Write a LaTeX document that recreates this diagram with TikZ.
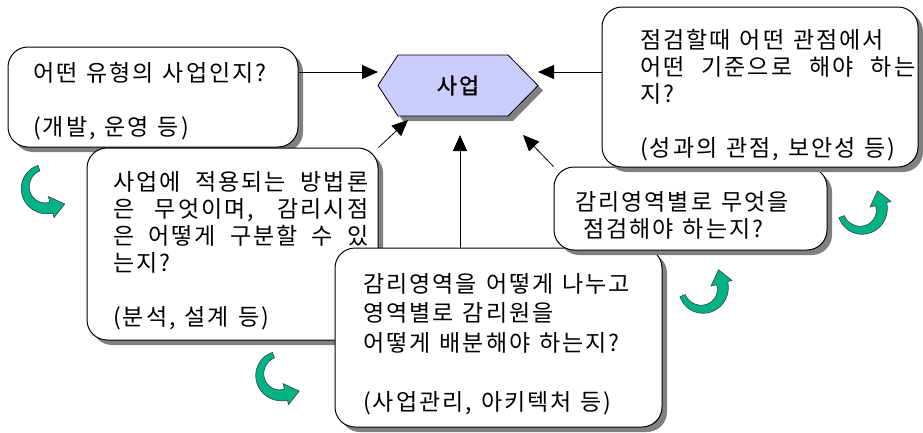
\documentclass[tikz,border=0pt]{standalone}
\usepackage{fontspec}
\newfontfamily\kr{Noto Sans CJK KR}[LetterSpace=8.7]
\usetikzlibrary{arrows.meta,shadows}
\definecolor{hexfill}{RGB}{204,204,255}
\definecolor{ribbon}{RGB}{0,179,134}
\definecolor{shadowgray}{RGB}{128,128,128}
\newcommand{\krtext}[1]{\kr\fontsize{23}{#1}\selectfont\fontdimen2\font=9pt\relax}
\newcommand{\jline}[2]{\makebox[#1pt][s]{#2}}
\tikzset{
  txt/.style={font={\krtext{27}}, align=left, inner sep=0pt, anchor=base west},
  box/.style={draw=black, line width=1pt, fill=white, rounded corners=20pt,
    drop shadow={shadow xshift=5pt, shadow yshift=-5pt, fill=shadowgray, opacity=1}},
  hexshape/.style={draw=black, line width=0.8pt, fill=hexfill,
    drop shadow={shadow xshift=5pt, shadow yshift=-5pt, fill=shadowgray, opacity=1}},
  hexlabel/.style={font={\kr\fontsize{22}{26}\selectfont\addfontfeature{FakeBold=1.5}}, inner sep=0pt},
  conn/.style={line width=0.8pt, -{Triangle[length=16pt,width=14pt]}},
  ribbonstyle/.style={fill=ribbon, draw=black!75, line width=0.6pt, line join=round},
  curlarrow/.pic={
    \filldraw[ribbonstyle]
      plot[domain=200:375,samples=36,smooth,variable=\t]
        ({(20.5+2.5*(\t-200)/175)*cos(\t)},{(20.5+2.5*(\t-200)/175)*sin(\t)})
      -- (375:27) -- (14.3,16.3) -- (375:8)
      -- plot[domain=375:200,samples=36,smooth,variable=\t]
        ({(15.5-2.5*(\t-200)/175)*cos(\t)},{(15.5-2.5*(\t-200)/175)*sin(\t)})
      -- cycle;
  }
}
\begin{document}
\begin{tikzpicture}[x=1pt,y=1pt]
\fill[white] (0,0) rectangle (923,-432);
\useasboundingbox (0,0) rectangle (923,-432);

% hexagon
\path[hexshape] (378,-85.5) -- (398,-55) -- (508,-55) -- (538,-85.5) -- (508,-116) -- (398,-116) -- cycle;
\node[hexlabel] (hex) at (458,-85.5) {사업};

% boxes (text nodes anchored at the baseline of their last line)
\node[box, minimum width=290pt, minimum height=100pt] (b1) at (153,-97) {};
\node[txt] (t1) at (33,-135) {어떤 유형의 사업인지?\\[27pt](개발, 운영 등)};

\node[box, minimum width=291pt, minimum height=192pt] (b2) at (232.5,-244) {};
\node[txt] (t2) at (113,-325) {\jline{255}{사업에 적용되는 방법론}\\\jline{255}{은 무엇이며, 감리시점}\\\jline{255}{은 어떻게 구분할 수 있}\\는지?\\[27pt](분석, 설계 등)};

\node[box, minimum width=327pt, minimum height=179pt] (b3) at (498.5,-337.5) {};
\node[txt, font={\krtext{29.5}}] (t3) at (363,-410) {감리영역을 어떻게 나누고\\영역별로 감리원을\\어떻게 배분해야 하는지?\\[29.5pt](사업관리, 아키텍처 등)};

\node[box, minimum width=273pt, minimum height=83pt] (b4) at (690.5,-208.5) {};
\node[txt] (t4) at (575,-237) {감리영역별로 무엇을\\\hspace*{8pt}점검해야 하는지?};

\node[box, minimum width=316pt, minimum height=160pt] (b5) at (760,-87) {};
\node[txt] (t5) at (640,-156) {점검할때 어떤 관점에서\\\jline{275}{어떤 기준으로 해야 하는}\\지?\\[27pt](성과의 관점, 보안성 등)};

% connectors
\coordinate (tipL) at (378,-72);
\coordinate (tipR) at (538,-72);
\coordinate (tipB2) at (408,-120);
\coordinate (tipB3) at (460,-135);
\coordinate (tipB4) at (523,-135);
\draw[conn] (b1.east |- tipL) -- (tipL);
\draw[conn] (b5.west |- tipR) -- (tipR);
\draw[conn] (b2.north east) -- (tipB2);
\draw[conn] (b3.north -| tipB3) -- (tipB3);
\draw[conn] (b4.north west) -- (tipB4);

% curved green arrows
\pic[rotate=-90,scale=1.15] at (46,-187.6) {curlarrow};
\pic[rotate=-90,scale=1.15] at (280.5,-374.6) {curlarrow};
\pic[scale=1.15] at (702.1,-288.5) {curlarrow};
\pic[scale=1.15] at (861.1,-209.5) {curlarrow};
\end{tikzpicture}
\end{document}
